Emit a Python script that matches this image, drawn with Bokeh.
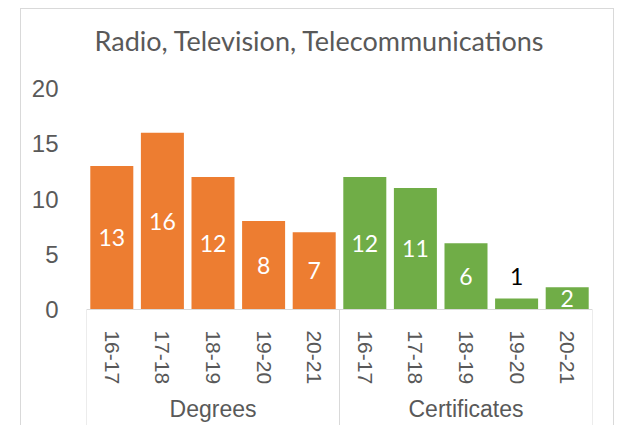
from bokeh.plotting import figure
from bokeh.models import FactorRange, Range1d, FixedTicker, ColumnDataSource
from bokeh.core.properties import value
from bokeh.embed import file_html
from bokeh.resources import INLINE

# ---- data ----
title_text = "Radio, Television, Telecommunications"
groups = ["Degrees", "Certificates"]
years = ["16-17", "17-18", "18-19", "19-20", "20-21"]
degrees = [13, 16, 12, 8, 7]
certificates = [12, 11, 6, 1, 2]
y_ticks = [0, 5, 10, 15, 20]
group_colors = {"Degrees": "#ED7D31", "Certificates": "#70AD47"}

GRAY_TXT = "#595959"
GRAY_LINE = "#D9D9D9"

factors = [(g, y) for g in groups for y in years]
counts = degrees + certificates
bar_colors = [group_colors[g] for g, _ in factors]

x_range = FactorRange(*factors, factor_padding=0, group_padding=0, range_padding=0)
y_range = Range1d(-10.6, 22.0)

p = figure(x_range=x_range, y_range=y_range, width=594, height=417,
           output_backend="svg", toolbar_location=None,
           min_border_left=65, min_border_right=23, min_border_top=57, min_border_bottom=0,
           margin=(8, 0, 0, 20))
p.styles = {"border-style": "solid", "border-color": "#D9D9D9",
            "border-width": "1px 1px 0px 1px", "box-sizing": "border-box"}
p.outline_line_color = None
p.grid.visible = False
p.background_fill_color = "white"
p.border_fill_color = "white"

# title
p.title.text = title_text
p.title.align = "left"
p.title.offset = 8
p.title.standoff = 20
p.title.text_font = "Lato"
p.title.text_font_size = "27px"
p.title.text_font_style = "normal"
p.title.text_color = GRAY_TXT

# bars
src = ColumnDataSource(dict(x=factors, top=counts, color=bar_colors))
p.vbar(x="x", top="top", width=0.85, color="color", source=src, line_color=None)

# data labels
inside = [(f, v) for f, v in zip(factors, counts) if v >= 2]
outside = [(f, v) for f, v in zip(factors, counts) if v < 2]
p.text(x=[f for f, _ in inside], y=[v / 2 for _, v in inside], text=[str(v) for _, v in inside],
       text_align="center", text_baseline="middle", text_color="white",
       text_font=value("Lato"), text_font_size="23px")
p.text(x=[f for f, _ in outside], y=[v for _, v in outside], text=[str(v) for _, v in outside],
       text_align="center", text_baseline="bottom", text_color="black", y_offset=-13,
       text_font=value("Lato"), text_font_size="23px")

# category box lines
bx = [(groups[0], years[0], -0.5), (groups[1], years[0], -0.5), (groups[1], years[-1], 0.5)]
p.segment(x0=bx, x1=bx, y0=[0] * len(bx), y1=[y_range.start] * len(bx),
          line_color=GRAY_LINE, line_width=1)

# group labels
p.text(x=groups, y=[-9.05] * len(groups), text=groups,
       text_align="center", text_baseline="middle", text_color=GRAY_TXT,
       text_font=value("Liberation Sans"), text_font_size="23px")

# x axis
xa = p.xaxis[0]
xa.fixed_location = 0
xa.axis_line_color = GRAY_LINE
xa.major_tick_line_color = None
xa.minor_tick_line_color = None
xa.major_label_orientation = "vertical"
xa.major_label_standoff = 15
xa.major_label_text_font = "Liberation Sans"
xa.major_label_text_font_size = "21px"
xa.major_label_text_color = GRAY_TXT
xa.group_text_color = None
xa.separator_line_color = None

# y axis
ya = p.yaxis[0]
ya.ticker = FixedTicker(ticks=y_ticks)
ya.axis_line_color = None
ya.major_tick_line_color = None
ya.minor_tick_line_color = None
ya.major_label_standoff = 22
ya.major_label_text_font = "Liberation Sans"
ya.major_label_text_font_size = "24px"
ya.major_label_text_color = GRAY_TXT

open("out.html", "w").write(file_html(p, INLINE))
